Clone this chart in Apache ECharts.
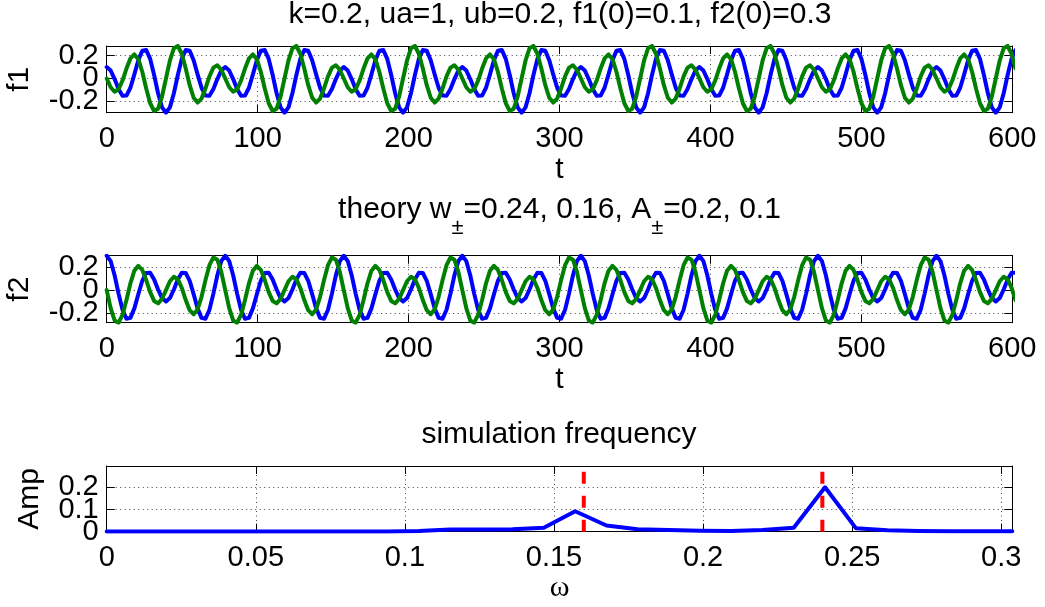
<!DOCTYPE html>
<html>
<head>
<meta charset="utf-8">
<script src="https://cdn.jsdelivr.net/npm/echarts@6/dist/echarts.min.js"></script>
<style>
html,body{margin:0;padding:0;background:#fff;}
#chart{width:1045px;height:607px;}
</style>
</head>
<body>
<div id="chart"></div>
<script>
// ---- data ----
const dt = 2.618; // time step between samples of the simulated series

const f1Re = [
0.100,0.070,-0.005,-0.093,-0.151,-0.150,-0.081,0.036,0.160,0.243,0.250,0.172,0.031,-0.129,-0.253,-0.300,-0.253,-0.129,0.031,0.172,0.250,0.243,0.160,0.036,-0.081,-0.150,-0.151,-0.093,-0.005,0.070,
0.100,0.070,-0.005,-0.093,-0.151,-0.150,-0.081,0.036,0.160,0.243,0.250,0.172,0.031,-0.129,-0.253,-0.300,-0.253,-0.129,0.031,0.172,0.250,0.243,0.160,0.036,-0.081,-0.150,-0.151,-0.093,-0.005,0.070,
0.100,0.070,-0.005,-0.093,-0.151,-0.150,-0.081,0.036,0.160,0.243,0.250,0.172,0.031,-0.129,-0.253,-0.300,-0.253,-0.129,0.031,0.172,0.250,0.243,0.160,0.036,-0.081,-0.150,-0.151,-0.093,-0.005,0.070,
0.100,0.070,-0.005,-0.093,-0.151,-0.150,-0.081,0.036,0.160,0.243,0.250,0.172,0.031,-0.129,-0.253,-0.300,-0.253,-0.129,0.031,0.172,0.250,0.243,0.160,0.036,-0.081,-0.150,-0.151,-0.093,-0.005,0.070,
0.100,0.070,-0.005,-0.093,-0.151,-0.150,-0.081,0.036,0.160,0.243,0.250,0.172,0.031,-0.129,-0.253,-0.300,-0.253,-0.129,0.031,0.172,0.250,0.243,0.160,0.036,-0.081,-0.150,-0.151,-0.093,-0.005,0.070,
0.100,0.070,-0.005,-0.093,-0.151,-0.150,-0.081,0.036,0.160,0.243,0.250,0.172,0.031,-0.129,-0.253,-0.300,-0.253,-0.129,0.031,0.172,0.250,0.243,0.160,0.036,-0.081,-0.150,-0.151,-0.093,-0.005,0.070,
0.100,0.070,-0.005,-0.093,-0.151,-0.150,-0.081,0.036,0.160,0.243,0.250,0.172,0.031,-0.129,-0.253,-0.300,-0.253,-0.129,0.031,0.172,0.250,0.243,0.160,0.036,-0.081,-0.150,-0.151,-0.093,-0.005,0.070,
0.100,0.070,-0.005,-0.093,-0.151,-0.150,-0.081,0.036,0.160,0.243,0.250,0.172,0.031,-0.129,-0.253,-0.300,-0.253,-0.129,0.031,0.172,0.250
];

const f1Im = [
0,-0.077,-0.116,-0.095,-0.018,0.087,0.176,0.211,0.169,0.059,-0.087,-0.217,-0.285,-0.265,-0.158,0,0.158,0.265,0.285,0.217,0.087,-0.059,-0.169,-0.211,-0.176,-0.087,0.018,0.095,0.116,0.077,
0,-0.077,-0.116,-0.095,-0.018,0.087,0.176,0.211,0.169,0.059,-0.087,-0.217,-0.285,-0.265,-0.158,0,0.158,0.265,0.285,0.217,0.087,-0.059,-0.169,-0.211,-0.176,-0.087,0.018,0.095,0.116,0.077,
0,-0.077,-0.116,-0.095,-0.018,0.087,0.176,0.211,0.169,0.059,-0.087,-0.217,-0.285,-0.265,-0.158,0,0.158,0.265,0.285,0.217,0.087,-0.059,-0.169,-0.211,-0.176,-0.087,0.018,0.095,0.116,0.077,
0,-0.077,-0.116,-0.095,-0.018,0.087,0.176,0.211,0.169,0.059,-0.087,-0.217,-0.285,-0.265,-0.158,0,0.158,0.265,0.285,0.217,0.087,-0.059,-0.169,-0.211,-0.176,-0.087,0.018,0.095,0.116,0.077,
0,-0.077,-0.116,-0.095,-0.018,0.087,0.176,0.211,0.169,0.059,-0.087,-0.217,-0.285,-0.265,-0.158,0,0.158,0.265,0.285,0.217,0.087,-0.059,-0.169,-0.211,-0.176,-0.087,0.018,0.095,0.116,0.077,
0,-0.077,-0.116,-0.095,-0.018,0.087,0.176,0.211,0.169,0.059,-0.087,-0.217,-0.285,-0.265,-0.158,0,0.158,0.265,0.285,0.217,0.087,-0.059,-0.169,-0.211,-0.176,-0.087,0.018,0.095,0.116,0.077,
0,-0.077,-0.116,-0.095,-0.018,0.087,0.176,0.211,0.169,0.059,-0.087,-0.217,-0.285,-0.265,-0.158,0,0.158,0.265,0.285,0.217,0.087,-0.059,-0.169,-0.211,-0.176,-0.087,0.018,0.095,0.116,0.077,
0,-0.077,-0.116,-0.095,-0.018,0.087,0.176,0.211,0.169,0.059,-0.087,-0.217,-0.285,-0.265,-0.158,0,0.158,0.265,0.285,0.217,0.087
];

const f2Re = [
0.300,0.253,0.129,-0.031,-0.172,-0.250,-0.243,-0.160,-0.036,0.081,0.150,0.151,0.093,0.005,-0.070,-0.100,-0.070,0.005,0.093,0.151,0.150,0.081,-0.036,-0.160,-0.243,-0.250,-0.172,-0.031,0.129,0.253,
0.300,0.253,0.129,-0.031,-0.172,-0.250,-0.243,-0.160,-0.036,0.081,0.150,0.151,0.093,0.005,-0.070,-0.100,-0.070,0.005,0.093,0.151,0.150,0.081,-0.036,-0.160,-0.243,-0.250,-0.172,-0.031,0.129,0.253,
0.300,0.253,0.129,-0.031,-0.172,-0.250,-0.243,-0.160,-0.036,0.081,0.150,0.151,0.093,0.005,-0.070,-0.100,-0.070,0.005,0.093,0.151,0.150,0.081,-0.036,-0.160,-0.243,-0.250,-0.172,-0.031,0.129,0.253,
0.300,0.253,0.129,-0.031,-0.172,-0.250,-0.243,-0.160,-0.036,0.081,0.150,0.151,0.093,0.005,-0.070,-0.100,-0.070,0.005,0.093,0.151,0.150,0.081,-0.036,-0.160,-0.243,-0.250,-0.172,-0.031,0.129,0.253,
0.300,0.253,0.129,-0.031,-0.172,-0.250,-0.243,-0.160,-0.036,0.081,0.150,0.151,0.093,0.005,-0.070,-0.100,-0.070,0.005,0.093,0.151,0.150,0.081,-0.036,-0.160,-0.243,-0.250,-0.172,-0.031,0.129,0.253,
0.300,0.253,0.129,-0.031,-0.172,-0.250,-0.243,-0.160,-0.036,0.081,0.150,0.151,0.093,0.005,-0.070,-0.100,-0.070,0.005,0.093,0.151,0.150,0.081,-0.036,-0.160,-0.243,-0.250,-0.172,-0.031,0.129,0.253,
0.300,0.253,0.129,-0.031,-0.172,-0.250,-0.243,-0.160,-0.036,0.081,0.150,0.151,0.093,0.005,-0.070,-0.100,-0.070,0.005,0.093,0.151,0.150,0.081,-0.036,-0.160,-0.243,-0.250,-0.172,-0.031,0.129,0.253,
0.300,0.253,0.129,-0.031,-0.172,-0.250,-0.243,-0.160,-0.036,0.081,0.150,0.151,0.093,0.005,-0.070,-0.100,-0.070,0.005,0.093,0.151,0.150
];

const f2Im = [
0,-0.158,-0.265,-0.285,-0.217,-0.087,0.059,0.169,0.211,0.176,0.087,-0.018,-0.095,-0.116,-0.077,0,0.077,0.116,0.095,0.018,-0.087,-0.176,-0.211,-0.169,-0.059,0.087,0.217,0.285,0.265,0.158,
0,-0.158,-0.265,-0.285,-0.217,-0.087,0.059,0.169,0.211,0.176,0.087,-0.018,-0.095,-0.116,-0.077,0,0.077,0.116,0.095,0.018,-0.087,-0.176,-0.211,-0.169,-0.059,0.087,0.217,0.285,0.265,0.158,
0,-0.158,-0.265,-0.285,-0.217,-0.087,0.059,0.169,0.211,0.176,0.087,-0.018,-0.095,-0.116,-0.077,0,0.077,0.116,0.095,0.018,-0.087,-0.176,-0.211,-0.169,-0.059,0.087,0.217,0.285,0.265,0.158,
0,-0.158,-0.265,-0.285,-0.217,-0.087,0.059,0.169,0.211,0.176,0.087,-0.018,-0.095,-0.116,-0.077,0,0.077,0.116,0.095,0.018,-0.087,-0.176,-0.211,-0.169,-0.059,0.087,0.217,0.285,0.265,0.158,
0,-0.158,-0.265,-0.285,-0.217,-0.087,0.059,0.169,0.211,0.176,0.087,-0.018,-0.095,-0.116,-0.077,0,0.077,0.116,0.095,0.018,-0.087,-0.176,-0.211,-0.169,-0.059,0.087,0.217,0.285,0.265,0.158,
0,-0.158,-0.265,-0.285,-0.217,-0.087,0.059,0.169,0.211,0.176,0.087,-0.018,-0.095,-0.116,-0.077,0,0.077,0.116,0.095,0.018,-0.087,-0.176,-0.211,-0.169,-0.059,0.087,0.217,0.285,0.265,0.158,
0,-0.158,-0.265,-0.285,-0.217,-0.087,0.059,0.169,0.211,0.176,0.087,-0.018,-0.095,-0.116,-0.077,0,0.077,0.116,0.095,0.018,-0.087,-0.176,-0.211,-0.169,-0.059,0.087,0.217,0.285,0.265,0.158,
0,-0.158,-0.265,-0.285,-0.217,-0.087,0.059,0.169,0.211,0.176,0.087,-0.018,-0.095,-0.116,-0.077,0,0.077,0.116,0.095,0.018,-0.087
];

const omega = [0,0.0105,0.0209,0.0314,0.0419,0.0524,0.0628,0.0733,0.0838,0.0942,0.1047,0.1152,0.1257,0.1361,0.1466,0.1571,0.1676,0.1780,0.1885,0.1990,0.2094,0.2199,0.2304,0.2409,0.2513,0.2618,0.2723,0.2827,0.2932,0.3037];
const amp   = [0.001,0.001,0.001,0.001,0.001,0.001,0.001,0.001,0.001,0.001,0.003,0.010,0.010,0.011,0.018,0.092,0.028,0.011,0.008,0.004,0.003,0.008,0.018,0.200,0.015,0.006,0.003,0.002,0.002,0.002];

const theoryOmega = [0.16, 0.24];
const theoryLineTop = 0.27;

const tTicks = [0,100,200,300,400,500,600];
const fTicks = [-0.2,0,0.2];
const wTicks = [0,0.05,0.1,0.15,0.2,0.25,0.3];
const ampTicks = [0,0.1,0.2];

const title1 = 'k=0.2, ua=1, ub=0.2, f1(0)=0.1, f2(0)=0.3';
const title2 = '{n|theory w}{s|±}{n|=0.24, 0.16, A}{s|±}{n|=0.2, 0.1}';
const title3 = 'simulation frequency';

// ---- build chart ----
const FONT = '"Liberation Sans", Arial, Helvetica, sans-serif';
const SERIF = '"Liberation Serif", "Times New Roman", serif';
const time = f1Re.map((_, i) => i * dt);
const pairs = (xs, ys) => ys.map((y, i) => [xs[i], y]);

const gridBoxes = [
  {left:106.7, top:46, width:905.6, height:66.7},
  {left:106.7, top:255.7, width:905.6, height:67},
  {left:106.7, top:466, width:905.6, height:65.7}
];

const axLine = {show:true, onZero:false, lineStyle:{color:'#000', width:1}};
function tick(vals){ return {show:true, inside:true, length:8, customValues:vals, lineStyle:{color:'#000', width:1}}; }
const split = {show:true, lineStyle:{color:'#444', width:1, type:[1,3.5]}};
function labelStyle(vals, margin){
  return {show:true, customValues:vals, margin, color:'#000', fontSize:29, fontFamily:FONT,
          showMinLabel:true, showMaxLabel:true, hideOverlap:false};
}

function xAxes(gi, min, max, vals, name, nameFont, nameGap){
  return [
    {gridIndex:gi, type:'value', position:'bottom', min, max,
     name, nameLocation:'middle', nameGap,
     nameTextStyle:{color:'#000', fontSize:30, fontFamily:nameFont},
     axisLine:axLine, axisTick:tick(vals), axisLabel:labelStyle(vals, 12), splitLine:split},
    {gridIndex:gi, type:'value', position:'top', min, max,
     axisLine:axLine, axisTick:tick(vals), axisLabel:{show:false}, splitLine:{show:false}}
  ];
}
// labels of the y ticks are split over two left axes so the tightly packed
// tick labels are all kept (a single axis drops the middle one)
function yAxes(gi, min, max, vals, name, nameGap){
  const outer = [vals[0], vals[vals.length - 1]];
  return [
    {gridIndex:gi, type:'value', position:'left', min, max,
     name, nameLocation:'middle', nameGap,
     nameTextStyle:{color:'#000', fontSize:30, fontFamily:FONT},
     axisLine:axLine, axisTick:tick(vals), axisLabel:labelStyle(outer, 8), splitLine:split},
    {gridIndex:gi, type:'value', position:'right', min, max,
     axisLine:axLine, axisTick:tick(vals), axisLabel:{show:false}, splitLine:{show:false}}
  ];
}
function yMiddleLabelAxis(gi, min, max, vals){
  return {gridIndex:gi, type:'value', position:'left', offset:0, min, max,
    axisLine:{show:false}, axisTick:{show:false, customValues:vals.slice(1, -1)},
    axisLabel:labelStyle(vals.slice(1, -1), 8), splitLine:{show:false}};
}

function lineSeries(gi, data, color, width, extra){
  return Object.assign({
    type:'line', xAxisIndex:2*gi, yAxisIndex:2*gi, data,
    showSymbol:false, symbol:'none', silent:true,
    lineStyle:{color, width, join:'round', cap:'round'}
  }, extra || {});
}

const series = [
  lineSeries(0, pairs(time, f1Re), '#0000ff', 4),
  lineSeries(0, pairs(time, f1Im), '#008000', 4),
  lineSeries(1, pairs(time, f2Re), '#0000ff', 4),
  lineSeries(1, pairs(time, f2Im), '#008000', 4),
  lineSeries(2, pairs(omega, amp), '#0000ff', 4)
];
theoryOmega.forEach(w => {
  series.push(lineSeries(2, [[w, 0], [w, theoryLineTop]], '#ff0000', 4,
    {lineStyle:{color:'#ff0000', width:4, type:[12,12], cap:'butt'}, z:5}));
});

const option = {
  animation:false,
  backgroundColor:'#fff',
  grid: gridBoxes.map(g => Object.assign({containLabel:false, outerBoundsMode:'none'}, g)),
  xAxis: [].concat(
    xAxes(0, 0, 600, tTicks, 't', FONT, 34),
    xAxes(1, 0, 600, tTicks, 't', FONT, 34),
    xAxes(2, 0, 0.3037, wTicks, 'ω', SERIF, 38)
  ),
  yAxis: [].concat(
    yAxes(0, -0.3, 0.285, fTicks, 'f1', 72),
    yAxes(1, -0.285, 0.3, fTicks, 'f2', 72),
    yAxes(2, 0, 0.296, ampTicks, 'Amp', 62),
    [yMiddleLabelAxis(0, -0.3, 0.285, fTicks),
     yMiddleLabelAxis(1, -0.285, 0.3, fTicks),
     yMiddleLabelAxis(2, 0, 0.296, ampTicks)]
  ),
  series,
  graphic: [
    {type:'text', x:560, y:14.6, silent:true,
     style:{text:title1, fill:'#000', fontSize:30, fontFamily:FONT, align:'center', verticalAlign:'middle'}},
    {type:'text', x:559.5, y:209.6, silent:true,
     style:{text:title2, fill:'#000', fontSize:30, fontFamily:FONT, align:'center', verticalAlign:'middle',
       rich:{
         n:{fontSize:30, fontFamily:FONT, fill:'#000', lineHeight:36},
         s:{fontSize:22, fontFamily:FONT, fill:'#000', lineHeight:22, padding:[37,0,0,0]}
       }}},
    {type:'text', x:559, y:434.6, silent:true,
     style:{text:title3, fill:'#000', fontSize:30, fontFamily:FONT, align:'center', verticalAlign:'middle'}}
  ]
};

const chart = echarts.init(document.getElementById('chart'), null, {renderer:'canvas'});
chart.setOption(option);
</script>
</body>
</html>
